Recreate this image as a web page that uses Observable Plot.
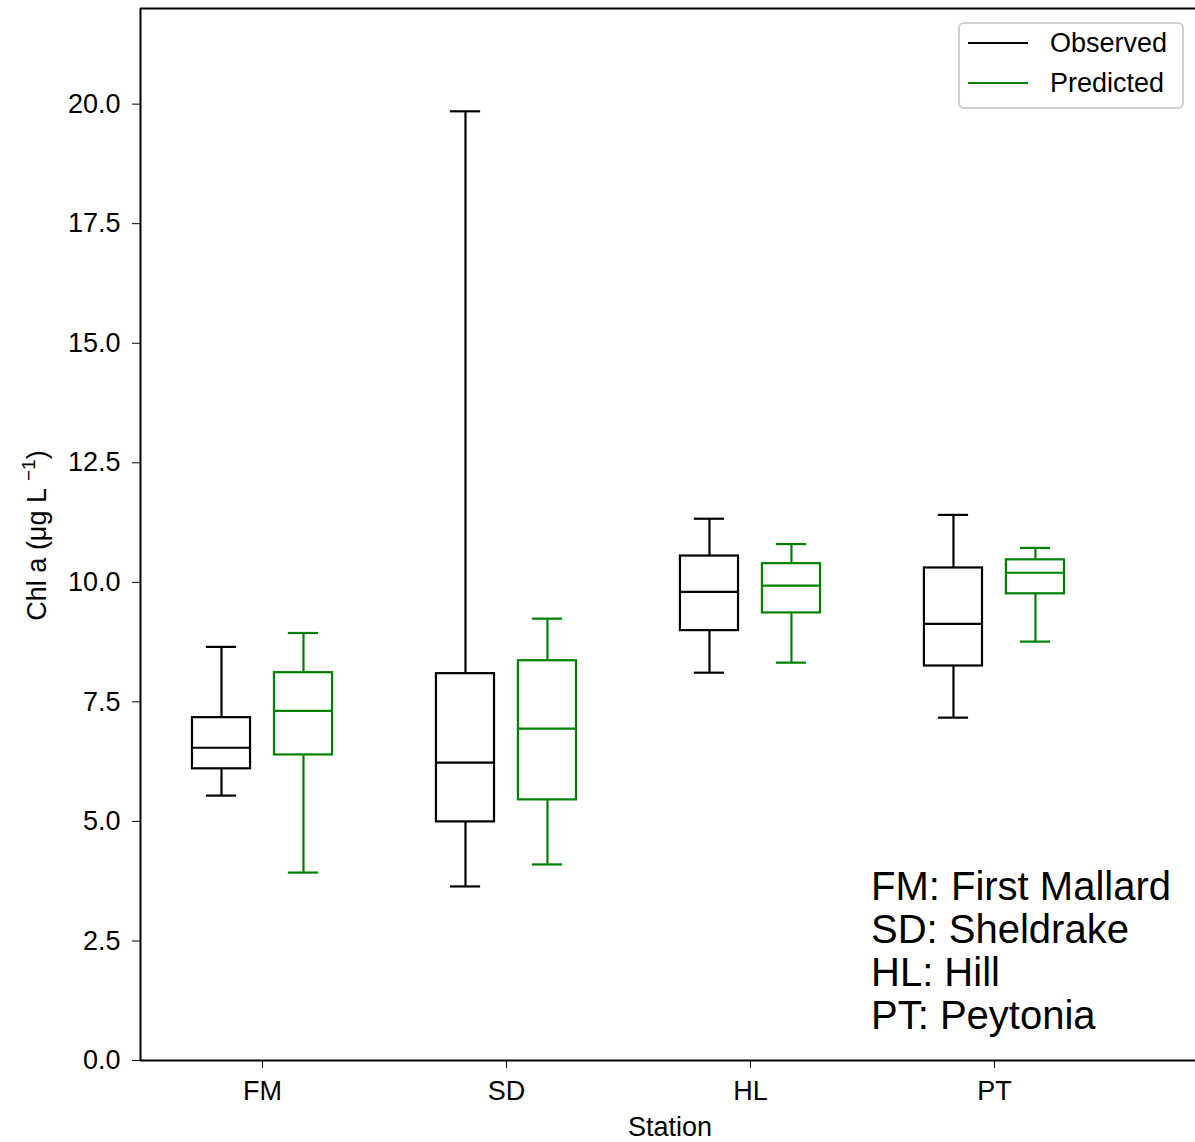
<!DOCTYPE html>
<html>
<head>
<meta charset="utf-8">
<script src="https://cdn.jsdelivr.net/npm/d3@7"></script>
<script src="https://cdn.jsdelivr.net/npm/@observablehq/plot@0.6"></script>
<style>
  html, body { margin: 0; padding: 0; background: #fff; }
  #wrap { position: relative; width: 1195px; height: 1142px; font-family: "Liberation Sans", Arial, sans-serif; }
  #legend { position: absolute; left: 958px; top: 22px; width: 226px; height: 87px; border: 2px solid #d0d0d0; border-radius: 6px; background: rgba(255,255,255,0.8); box-sizing: border-box; }
  .lg-row { position: absolute; left: 0; height: 30px; width: 100%; }
  .lg-line { position: absolute; left: 8px; width: 60px; top: 14px; height: 0; border-top: 2px solid #000; }
  .lg-text { position: absolute; left: 90px; top: 0; font-size: 27px; line-height: 30px; color: #000; white-space: nowrap; }
  #note { position: absolute; left: 871px; top: 865px; font-size: 40px; line-height: 43px; color: #000; white-space: nowrap; }
  .axlabel { position: absolute; font-size: 27px; line-height: 30px; color: #000; white-space: nowrap; transform-origin: center center; }
  .axlabel sup { font-size: 19px; vertical-align: 0; position: relative; top: -11px; margin-left: 7px; }
</style>
</head>
<body>
<div id="wrap">
  <div id="chart"></div>
  <div id="legend"></div>
  <div id="note"></div>
  <div id="xlabel" class="axlabel"></div>
  <div id="ylabel" class="axlabel"></div>
</div>
<script>
// ---- data ----
const stations = ["FM", "SD", "HL", "PT"];
const stationNames = ["First Mallard", "Sheldrake", "Hill", "Peytonia"];
const seriesNames = ["Observed", "Predicted"];
const seriesColors = ["black", "green"];
const xLabelText = "Station";
const yLabelText = "Chl a (μg L";
const yLabelSup = "−1";

const observedMin    = [5.54, 3.64, 8.11, 7.17];
const observedQ1     = [6.10, 4.99, 8.99, 8.25];
const observedMedian = [6.54, 6.23, 9.80, 9.13];
const observedQ3     = [7.17, 8.09, 10.55, 10.30];
const observedMax    = [8.65, 19.85, 11.33, 11.41];

const predictedMin    = [3.93, 4.10, 8.32, 8.76];
const predictedQ1     = [6.39, 5.45, 9.36, 9.76];
const predictedMedian = [7.31, 6.94, 9.93, 10.20];
const predictedQ3     = [8.11, 8.36, 10.39, 10.47];
const predictedMax    = [8.94, 9.24, 10.80, 10.72];

const yTicks = [0, 2.5, 5, 7.5, 10, 12.5, 15, 17.5, 20];
const yDomain = [0, 22];
const xDomain = [0.5, 4.824];

// ---- build rows ----
const offset = 0.168, boxHalf = 0.119, capHalf = 0.062;
const rows = [];
stations.forEach((s, i) => {
  rows.push({station: s, series: "Observed", pos: i + 1 - offset,
    min: observedMin[i], q1: observedQ1[i], med: observedMedian[i], q3: observedQ3[i], max: observedMax[i]});
  rows.push({station: s, series: "Predicted", pos: i + 1 + offset,
    min: predictedMin[i], q1: predictedQ1[i], med: predictedMedian[i], q3: predictedQ3[i], max: predictedMax[i]});
});

const sw = 2.2;
const W = 1195, H = 1142, mL = 140, mR = 0, mT = 8, mB = 82;
const chart = Plot.plot({
  width: W,
  height: H,
  marginLeft: mL,
  marginRight: mR,
  marginTop: mT,
  marginBottom: mB,
  style: {fontSize: "27px", fontFamily: "Liberation Sans, Arial, sans-serif", color: "black", background: "white"},
  x: {type: "linear", domain: xDomain, ticks: [1, 2, 3, 4], tickFormat: d => stations[d - 1], tickSize: 8, tickPadding: 12, label: null},
  y: {domain: yDomain, ticks: yTicks, tickFormat: d3.format(".1f"), tickSize: 8, tickPadding: 12, label: null},
  color: {domain: seriesNames, range: seriesColors},
  marks: [
    // whiskers
    Plot.ruleX(rows, {x: "pos", y1: "min", y2: "q1", stroke: "series", strokeWidth: sw}),
    Plot.ruleX(rows, {x: "pos", y1: "q3", y2: "max", stroke: "series", strokeWidth: sw}),
    // caps
    Plot.ruleY(rows, {y: "min", x1: d => d.pos - capHalf, x2: d => d.pos + capHalf, stroke: "series", strokeWidth: sw}),
    Plot.ruleY(rows, {y: "max", x1: d => d.pos - capHalf, x2: d => d.pos + capHalf, stroke: "series", strokeWidth: sw}),
    // boxes
    Plot.rect(rows, {x1: d => d.pos - boxHalf, x2: d => d.pos + boxHalf, y1: "q1", y2: "q3", fill: "white", stroke: "series", strokeWidth: sw}),
    // medians
    Plot.ruleY(rows, {y: "med", x1: d => d.pos - boxHalf, x2: d => d.pos + boxHalf, stroke: "series", strokeWidth: sw}),
    // spines
    Plot.ruleY([yDomain[0], yDomain[1]], {stroke: "black", strokeWidth: 2}),
    Plot.ruleX([xDomain[0]], {stroke: "black", strokeWidth: 2})
  ]
});
document.getElementById("chart").appendChild(chart);

// axis labels (HTML overlays)
const xl = document.getElementById("xlabel");
xl.textContent = xLabelText;
const xlw = xl.getBoundingClientRect().width;
xl.style.left = (670 - xlw / 2) + "px";
xl.style.top = (1127 - 15) + "px";

const yl = document.getElementById("ylabel");
yl.textContent = yLabelText;
const sup = document.createElement("sup");
sup.textContent = yLabelSup;
yl.appendChild(sup);
yl.appendChild(document.createTextNode(")"));
const ylr = yl.getBoundingClientRect();
yl.style.left = (38 - ylr.width / 2) + "px";
yl.style.top = (535 - ylr.height / 2) + "px";
yl.style.transform = "rotate(-90deg)";

// legend
const legend = document.getElementById("legend");
seriesNames.forEach((name, i) => {
  const row = document.createElement("div");
  row.className = "lg-row";
  row.style.top = (4 + i * 40) + "px";
  const line = document.createElement("div");
  line.className = "lg-line";
  line.style.borderTopColor = seriesColors[i];
  const txt = document.createElement("div");
  txt.className = "lg-text";
  txt.textContent = name;
  row.appendChild(line); row.appendChild(txt);
  legend.appendChild(row);
});

// station name note
const note = document.getElementById("note");
stations.forEach((s, i) => {
  const d = document.createElement("div");
  d.textContent = s + ": " + stationNames[i];
  note.appendChild(d);
});
</script>
</body>
</html>
